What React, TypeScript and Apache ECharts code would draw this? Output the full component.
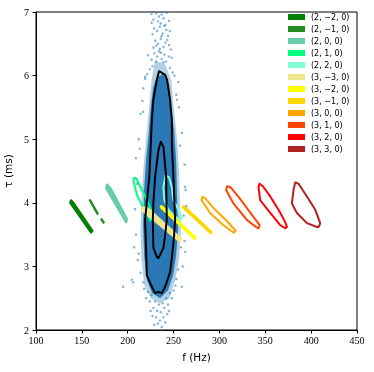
import React, { useEffect, useRef } from "react";
import * as echarts from "echarts";

// axis ranges
const F_MIN = 100, F_MAX = 450, F_STEP = 50;
const T_MIN = 2, T_MAX = 7, T_STEP = 1;

// legend / modes
const MODE_NAMES = [
  "(2, \u22122, 0)", "(2, \u22121, 0)", "(2, 0, 0)", "(2, 1, 0)", "(2, 2, 0)",
  "(3, \u22123, 0)", "(3, \u22122, 0)", "(3, \u22121, 0)", "(3, 0, 0)", "(3, 1, 0)", "(3, 2, 0)", "(3, 3, 0)",
];
const MODE_COLORS = [
  "#008000", "#228B22", "#66CDAA", "#00FF7F", "#7FFFD4",
  "#F0E68C", "#FFFF00", "#FFD700", "#FFA500", "#FF4500", "#FF0000", "#B22222",
];

// mode contours (f [Hz], tau [ms])
const C_2M2 = [[138.2, 4.04], [140.9, 4.0], [161.7, 3.56], [160.0, 3.53], [137.1, 4.0]];
const C_2M1_A = [[158.9, 4.04], [167.1, 3.83]];
const C_2M1_B = [[171.5, 3.74], [173.7, 3.69]];
const C_200 = [[177.5, 4.29], [181.8, 4.22], [199.3, 3.74], [198.2, 3.69], [176.4, 4.23]];
const C_210 = [[206.9, 4.39], [209.1, 4.39], [213.5, 4.26], [220.0, 4.08], [225.5, 3.89], [226.6, 3.76], [224.4, 3.72], [216.8, 3.93], [210.2, 4.12], [206.4, 4.34]];
const C_220 = [[241.3, 4.43], [245.1, 4.4], [248.1, 4.25], [249.8, 4.04], [255.3, 3.89], [259.0, 3.76], [256.6, 3.72], [253.3, 3.76], [244.4, 3.89], [240.0, 4.04], [238.9, 4.25]];
const C_3M3 = [[216.8, 3.93], [220.6, 3.93], [258.2, 3.44], [256.6, 3.39], [215.7, 3.88]];
const C_3M2 = [[236.4, 3.95], [238.0, 3.94], [274.1, 3.45], [273.0, 3.43], [235.9, 3.93]];
const C_3M1 = [[260.4, 3.95], [262.1, 3.94], [291.5, 3.54], [290.4, 3.52], [259.9, 3.93]];
const C_300 = [[281.2, 4.09], [283.9, 4.08], [295.3, 3.89], [308.4, 3.71], [317.7, 3.56], [315.5, 3.53], [304.1, 3.65], [289.9, 3.84], [280.6, 4.04]];
const C_310 = [[308.4, 4.26], [312.5, 4.24], [322.6, 4.06], [335.4, 3.81], [343.9, 3.65], [342.6, 3.6], [340.9, 3.61], [329.9, 3.73], [315.3, 3.99], [307.3, 4.2]];
const C_320 = [[343.7, 4.3], [347.4, 4.26], [355.4, 4.1], [364.4, 3.89], [371.7, 3.7], [373.6, 3.62], [371.7, 3.6], [366.3, 3.65], [355.4, 3.84], [344.5, 4.04], [342.6, 4.25]];
const C_330 = [[382.6, 4.32], [386.3, 4.3], [395.4, 4.1], [404.5, 3.89], [409.9, 3.68], [408.3, 3.62], [406.3, 3.62], [395.4, 3.68], [384.5, 3.84], [379.0, 3.99], [380.8, 4.2]];

// posterior sample cloud: dense core, halo and individual outlying samples
const CLOUD_CORE = [[231.0, 5.96], [238.6, 6.03], [245.1, 5.85], [247.3, 5.46], [250.6, 5.14], [252.8, 4.67], [253.9, 4.04], [255.0, 3.57], [252.8, 3.18], [249.5, 2.86], [244.1, 2.63], [235.3, 2.5], [226.6, 2.58], [221.1, 2.79], [217.9, 3.18], [216.8, 3.65], [217.9, 4.2], [220.0, 4.67], [223.3, 5.14], [225.5, 5.54], [227.7, 5.81]];
const CLOUD_HALO = [[229.5, 6.22], [240.0, 6.2], [247.5, 5.93], [250.5, 5.46], [253.8, 4.99], [255.8, 4.52], [257.0, 4.04], [258.0, 3.57], [255.8, 3.1], [251.8, 2.79], [245.5, 2.5], [235.3, 2.42], [225.0, 2.5], [218.0, 2.71], [215.0, 3.1], [214.0, 3.57], [215.0, 4.04], [217.0, 4.52], [220.0, 4.99], [223.0, 5.46], [226.0, 5.93]];
const SAMPLES = [
  [226, 6.97], [231, 6.98], [237, 6.96], [243, 6.99], [234, 6.93],
  [228, 6.88], [233, 6.85], [239, 6.9], [245, 6.86], [236, 6.82], [241, 6.8], [226, 6.83],
  [229, 6.74], [232, 6.7], [235, 6.77], [238, 6.66], [242, 6.72], [246, 6.7], [237, 6.62], [240, 6.78], [227, 6.65], [244, 6.62],
  [230, 6.55], [233, 6.5], [236, 6.58], [239, 6.45], [241, 6.52], [245, 6.48], [228, 6.44], [235, 6.42], [243, 6.56], [231, 6.47], [247, 6.41],
  [229, 6.35], [232, 6.3], [234, 6.38], [237, 6.26], [240, 6.33], [242, 6.22], [245, 6.3], [226, 6.25], [236, 6.36], [239, 6.21], [231, 6.22], [248, 6.28], [222, 6.32],
  [224, 6.1], [227, 6.15], [246, 6.12], [249, 6.05], [221, 6.02], [251, 6.0],
  [217, 5.8], [253, 5.7], [214, 5.4], [256, 5.5], [212, 5.0], [259, 5.1], [209, 4.7], [262, 4.6], [210, 4.3], [263, 4.2], [208, 3.9], [261, 3.8], [209, 3.5], [262, 3.4], [211, 3.1], [260, 3.0], [216, 5.6], [255, 5.9], [219, 5.95], [257, 4.9], [213, 4.85], [264, 3.95], [207, 3.3],
  [219, 5.98], [253.5, 5.62], [216.8, 5.43], [262.6, 4.25], [195, 2.68], [205.9, 2.75], [262.6, 3.23], [259, 2.68], [204.4, 2.79],
  [222, 2.6], [226, 2.55], [230, 2.45], [234, 2.4], [238, 2.42], [242, 2.5], [246, 2.58], [250, 2.62], [228, 2.35], [232, 2.3], [236, 2.28], [240, 2.35], [244, 2.4], [224, 2.45], [248, 2.5],
  [231, 2.2], [235, 2.15], [239, 2.2], [243, 2.25], [227, 2.22], [233, 2.1], [237, 2.05], [241, 2.12], [229, 2.08], [236, 2.0], [245, 2.3], [220, 2.5], [252, 2.7], [218, 2.65], [225, 2.3],
  [214, 2.9], [255, 2.95], [212, 3.2], [258, 3.3], [217, 2.75], [253, 2.8],
];

// credible-region contours of the samples
const BLACK_OUTER = [[234.2, 6.07], [240.8, 6.01], [243.0, 5.93], [246.2, 5.62], [248.1, 5.3], [248.1, 4.94], [249.8, 4.41], [251.7, 3.73], [250.6, 3.49], [248.1, 3.13], [246.2, 2.91], [240.8, 2.68], [237.2, 2.58], [233.5, 2.6], [229.9, 2.58], [226.3, 2.68], [220.8, 2.86], [220.0, 3.29], [218.9, 3.73], [220.8, 4.0], [223.6, 4.41], [226.3, 5.3], [228.0, 5.62], [231.7, 5.93]];
const BLACK_INNER = [[236.1, 4.96], [238.9, 4.88], [241.9, 4.41], [242.6, 3.73], [240.8, 3.49], [238.9, 3.29], [233.5, 3.13], [231.7, 3.15], [228.0, 3.29], [227.4, 3.73], [228.0, 4.0], [229.9, 4.41], [233.5, 4.83]];

const MODE_CONTOURS = [
  [C_2M2], [C_2M1_A, C_2M1_B], [C_200], [C_210], [C_220],
  [C_3M3], [C_3M2], [C_3M1], [C_300], [C_310], [C_320], [C_330],
];
// "closed" loops vs. open fragments; very narrow loops render as solid bands
const MODE_CLOSED = [true, false, true, true, true, true, true, true, true, true, true, true];
const MODE_SOLID = [true, false, true, false, false, true, true, true, false, false, false, false];

function polygonSeries(points: number[][], fill: string, opacity: number) {
  return {
    type: "custom",
    silent: true,
    data: [points[0]],
    renderItem: (_p: any, api: any) => ({
      type: "polygon",
      shape: { points: points.map((p) => api.coord(p)) },
      style: { fill, opacity },
    }),
  };
}

function contourSeries(name: string | undefined, parts: number[][][], color: string, closed: boolean, solid: boolean, width: number) {
  return {
    type: "custom",
    name,
    silent: true,
    itemStyle: { color },
    data: [parts[0][0]],
    renderItem: (_p: any, api: any) => ({
      type: "group",
      children: parts.map((pts) => ({
        type: closed ? "polygon" : "polyline",
        shape: { points: pts.map((p) => api.coord(p)) },
        style: {
          fill: solid ? color : "none",
          stroke: color,
          lineWidth: width,
          lineJoin: "round",
          lineCap: "round",
        },
      })),
    }),
  };
}

export default function App() {
  const ref = useRef<HTMLDivElement>(null);
  useEffect(() => {
    if (!ref.current) return;
    const chart = echarts.init(ref.current, undefined, { renderer: "svg" });
    const modeSeries = MODE_CONTOURS.map((parts, i) =>
      contourSeries(MODE_NAMES[i], parts, MODE_COLORS[i], MODE_CLOSED[i], MODE_SOLID[i], MODE_CLOSED[i] ? 2 : 2.5)
    );
    const axisLabelFont = { fontFamily: "Liberation Serif", fontSize: 10, color: "#000" };
    chart.setOption({
      animation: false,
      grid: {
        left: 36, right: 17, top: 12, bottom: 42,
        containLabel: false, outerBoundsMode: "none",
        show: true, borderColor: "#000", borderWidth: 1,
      },
      legend: {
        orient: "vertical",
        left: 288,
        top: 13,
        padding: 0,
        itemWidth: 17,
        itemHeight: 6,
        itemGap: 4,
        icon: "rect",
        data: MODE_NAMES.map((n, i) => ({ name: n, itemStyle: { color: MODE_COLORS[i] } })),
        textStyle: { fontFamily: "DejaVu Sans", fontSize: 8, lineHeight: 8, color: "#000", padding: [0, 0, 0, 1] },
        selectedMode: false,
      },
      xAxis: {
        type: "value",
        min: F_MIN, max: F_MAX, interval: F_STEP,
        name: "f (Hz)",
        nameLocation: "middle",
        nameGap: 21,
        nameTextStyle: { fontFamily: "DejaVu Sans", fontSize: 10.5, color: "#000" },
        axisLine: { show: true, lineStyle: { color: "#000", width: 1 } },
        axisTick: { show: true, inside: false, length: 3.5, lineStyle: { color: "#000" } },
        axisLabel: { ...axisLabelFont, margin: 5 },
        splitLine: { show: false },
      },
      yAxis: {
        type: "value",
        min: T_MIN, max: T_MAX, interval: T_STEP,
        name: "\u03c4 (ms)",
        nameLocation: "middle",
        nameGap: 22,
        nameTextStyle: { fontFamily: "DejaVu Sans", fontSize: 10.5, color: "#000" },
        axisLine: { show: true, lineStyle: { color: "#000", width: 1 } },
        axisTick: { show: true, inside: false, length: 3.5, lineStyle: { color: "#000" } },
        axisLabel: { ...axisLabelFont, margin: 7 },
        splitLine: { show: false },
      },
      series: [
        polygonSeries(CLOUD_HALO, "#1f77b4", 0.35),
        {
          type: "scatter",
          data: SAMPLES,
          symbolSize: 2.5,
          itemStyle: { color: "#1f77b4", opacity: 0.55 },
          silent: true,
        },
        polygonSeries(CLOUD_CORE, "#2a79b6", 1),
        ...modeSeries,
        contourSeries(undefined, [BLACK_OUTER], "#000", true, false, 2),
        contourSeries(undefined, [BLACK_INNER], "#000", true, false, 2),
      ],
    });
    return () => chart.dispose();
  }, []);
  return <div ref={ref} style={{ position: "fixed", left: 0, top: 0, width: 374, height: 372 }} />;
}
